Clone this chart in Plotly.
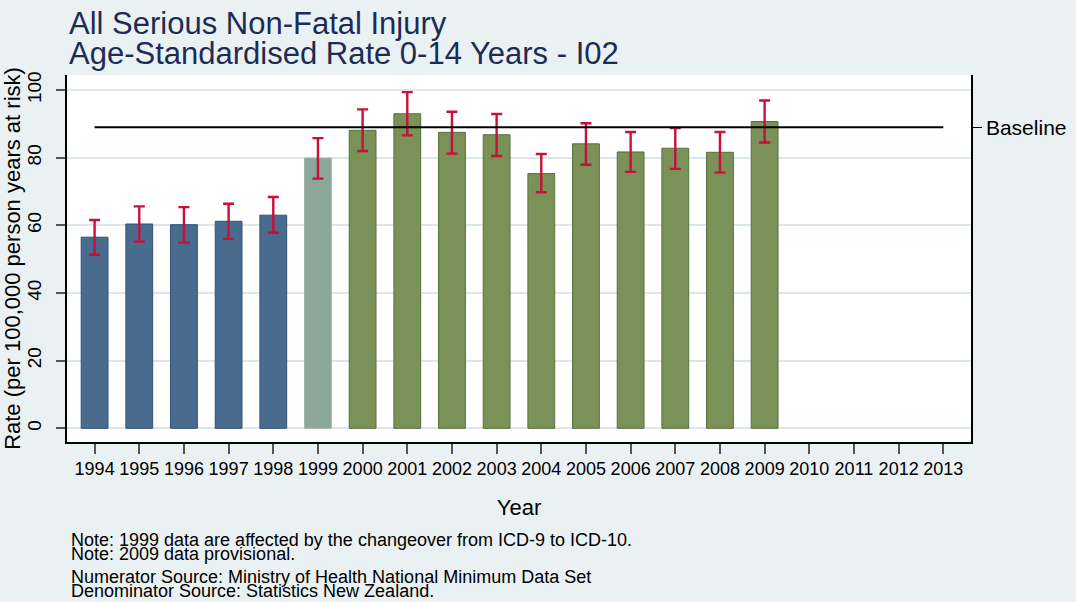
import plotly.graph_objects as go

# ---- data ----
years = [1994, 1995, 1996, 1997, 1998, 1999, 2000, 2001, 2002, 2003,
         2004, 2005, 2006, 2007, 2008, 2009]
rates = [56.5, 60.4, 60.2, 61.2, 63.0, 79.9, 88.1, 93.0, 87.5, 86.8,
         75.3, 84.1, 81.7, 82.8, 81.6, 90.7]
ci_low = [51.3, 55.2, 54.9, 56.0, 57.8, 73.8, 82.0, 86.6, 81.2, 80.5,
          69.8, 77.9, 75.8, 76.7, 75.6, 84.5]
ci_high = [61.6, 65.6, 65.4, 66.4, 68.4, 85.8, 94.3, 99.4, 93.6, 92.9,
           81.1, 90.2, 87.6, 88.8, 87.6, 96.9]
period = ["ICD-9", "ICD-9", "ICD-9", "ICD-9", "ICD-9", "Changeover",
          "ICD-10", "ICD-10", "ICD-10", "ICD-10", "ICD-10", "ICD-10",
          "ICD-10", "ICD-10", "ICD-10", "ICD-10"]
axis_years = list(range(1994, 2014))
baseline_value = 89.0
baseline_years = [1994, 2013]
y_ticks = [0, 20, 40, 60, 80, 100]

title_lines = ["All Serious Non-Fatal Injury",
               "Age-Standardised Rate 0-14 Years - I02"]
notes = ["Note: 1999 data are affected by the changeover from ICD-9 to ICD-10.",
         "Note: 2009 data provisional.",
         "Numerator Source: Ministry of Health National Minimum Data Set",
         "Denominator Source: Statistics New Zealand."]

# ---- styles ----
fill = {"ICD-9": "#486B8E", "Changeover": "#8CA69A", "ICD-10": "#7A9157"}
edge = {"ICD-9": "#2E5277", "Changeover": "#9FB5AB", "ICD-10": "#58703A"}
FONT = "Liberation Sans, Arial, sans-serif"
BG = "#EAF1F3"

fig = go.Figure()
fig.add_trace(go.Bar(
    x=years, y=rates, width=0.6,
    marker=dict(color=[fill[p] for p in period],
                line=dict(color=[edge[p] for p in period], width=1)),
    error_y=dict(type="data", symmetric=False,
                 array=[h - r for h, r in zip(ci_high, rates)],
                 arrayminus=[r - l for r, l in zip(rates, ci_low)],
                 color="#C8103A", thickness=2.4, width=5.5),
    showlegend=False, hoverinfo="x+y",
))
fig.add_trace(go.Scatter(
    x=baseline_years, y=[baseline_value] * len(baseline_years),
    mode="lines", line=dict(color="black", width=2),
    showlegend=False, hoverinfo="skip",
))
# invisible trace to activate the right-hand axis
fig.add_trace(go.Scatter(x=[years[0]], y=[baseline_value], yaxis="y2",
                         mode="markers", marker=dict(opacity=0),
                         showlegend=False, hoverinfo="skip"))

yr = [-4.05, 104.45]
fig.update_layout(
    width=1076, height=602,
    paper_bgcolor=BG, plot_bgcolor="white",
    margin=dict(l=67, r=105, t=75, b=160),
    font=dict(family=FONT, color="black"),
    bargap=0.4,
    xaxis=dict(
        range=[1993.382, 2013.62], tickmode="array", tickvals=axis_years,
        ticktext=[str(y) for y in axis_years],
        ticks="outside", ticklen=10, tickwidth=1.5, tickcolor="#555555",
        showline=True, linecolor="black", linewidth=1.5,
        showgrid=False, zeroline=False, automargin=False,
        tickfont=dict(size=18),
        title=dict(text="Year", font=dict(size=22), standoff=21),
    ),
    yaxis=dict(
        range=yr, tickmode="array", tickvals=y_ticks,
        ticks="outside", ticklen=9, tickwidth=1.5, tickcolor="#555555",
        tickangle=-90, tickfont=dict(size=19), ticklabelstandoff=8,
        showline=True, linecolor="black", linewidth=1.5,
        showgrid=True, gridcolor="#DCE7EB", gridwidth=2,
        zeroline=False, automargin=False,
        title=dict(text="Rate (per 100,000 person years at risk)",
                   font=dict(size=22), standoff=0),
    ),
    yaxis2=dict(
        overlaying="y", side="right", range=yr,
        tickmode="array", tickvals=[baseline_value], ticktext=["Baseline"],
        ticks="outside", ticklen=9, tickwidth=1.2, tickcolor="black",
        tickfont=dict(size=21), automargin=False,
        showline=True, linecolor="black", linewidth=1.5,
        showgrid=False, zeroline=False,
    ),
)

anns = []
title_tops = [4, 34]
for t, top in zip(title_lines, title_tops):
    anns.append(dict(text=t, xref="paper", yref="paper", x=0, xshift=0,
                     y=1, yshift=75 - top, xanchor="left", yanchor="top",
                     showarrow=False,
                     font=dict(size=31, color="#1D2C55", family=FONT)))
note_tops = [528, 542, 565, 579]
for t, top in zip(notes, note_tops):
    anns.append(dict(text=t, xref="paper", yref="paper", x=0, xshift=2,
                     y=0, yshift=-(top - 442), xanchor="left", yanchor="top",
                     showarrow=False,
                     font=dict(size=18, color="black", family=FONT)))
fig.update_layout(annotations=anns)

fig.write_html(
    "out.html",
    config={"displayModeBar": False},
    post_script="document.body.style.margin='0';"
                "document.body.style.overflow='hidden';",
)
